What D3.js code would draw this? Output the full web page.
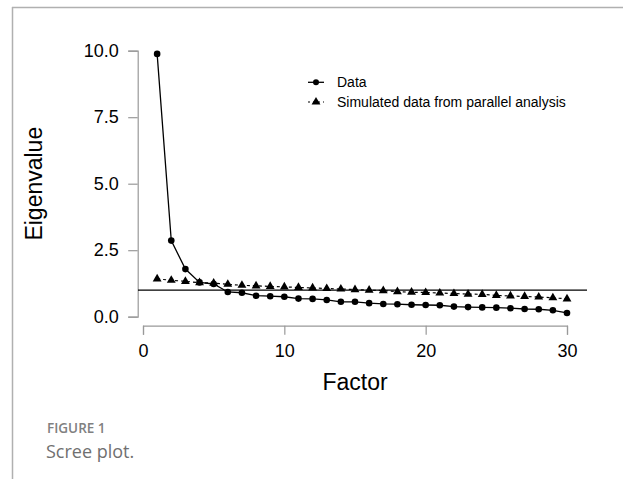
<!DOCTYPE html>
<html>
<head>
<meta charset="utf-8">
<script src="https://cdn.jsdelivr.net/npm/d3@7"></script>
<style>
  html, body { margin: 0; padding: 0; background: #fff; }
  svg { display: block; }
</style>
</head>
<body>
<svg id="chart" width="623" height="479"></svg>
<script>
// Eigenvalues of the observed data and of the parallel-analysis simulation
const factors = d3.range(1, 31);
const observed = [9.88, 2.86, 1.79, 1.29, 1.23, 0.93, 0.90, 0.79, 0.77, 0.75,
                  0.68, 0.67, 0.63, 0.56, 0.56, 0.51, 0.48, 0.47, 0.45, 0.44,
                  0.43, 0.38, 0.36, 0.35, 0.34, 0.32, 0.29, 0.28, 0.24, 0.14];
const simulated = [1.42, 1.37, 1.33, 1.28, 1.26, 1.22, 1.18, 1.16, 1.14, 1.12,
                   1.10, 1.08, 1.06, 1.04, 1.02, 1.00, 0.98, 0.94, 0.92, 0.91,
                   0.89, 0.87, 0.85, 0.84, 0.80, 0.78, 0.76, 0.74, 0.71, 0.67];
const xTicks = [0, 10, 20, 30];
const yTicks = [0, 2.5, 5, 7.5, 10];
const kaiserCut = 1;
const seriesNames = ["Data", "Simulated data from parallel analysis"];

const svg = d3.select("#chart");
const font = "'Liberation Sans', Arial, sans-serif";

// frame lines of the figure panel
svg.append("line").attr("x1", 12.5).attr("x2", 12.5).attr("y1", 7).attr("y2", 479)
  .attr("stroke", "#b0b0b0").attr("stroke-width", 1.5);
svg.append("line").attr("x1", 12).attr("x2", 623).attr("y1", 7.5).attr("y2", 7.5)
  .attr("stroke", "#b0b0b0").attr("stroke-width", 1.5);

const x = d3.scaleLinear().domain([0, 30]).range([143, 567]);
const y = d3.scaleLinear().domain([0, 10]).range([316.7, 50.7]);

// axes, detached from the plotting area
const xAxis = svg.append("g").attr("transform", "translate(0,325.7)")
  .call(d3.axisBottom(x).tickValues(xTicks).tickFormat(d3.format("d")).tickSize(9).tickPadding(10));
const yAxis = svg.append("g").attr("transform", "translate(137.7,0)")
  .call(d3.axisLeft(y).tickValues(yTicks).tickFormat(d3.format(".1f")).tickSize(9.5).tickPadding(9.5));
[xAxis, yAxis].forEach(g => {
  g.select(".domain").attr("stroke", "#999").attr("stroke-width", 1.2);
  g.selectAll(".tick line").attr("stroke", "#999").attr("stroke-width", 1.2);
  g.selectAll(".tick text").attr("fill", "#000").style("font-family", font).style("font-size", "18px");
});

svg.append("text").attr("x", x(15)).attr("y", 390).attr("text-anchor", "middle")
  .style("font-family", font).style("font-size", "23px").text("Factor");
svg.append("text").attr("transform", `translate(42,${y(5)}) rotate(-90)`).attr("text-anchor", "middle")
  .style("font-family", font).style("font-size", "23px").text("Eigenvalue");

// reference line at eigenvalue 1
svg.append("line").attr("x1", 138).attr("x2", 587).attr("y1", y(kaiserCut)).attr("y2", y(kaiserCut))
  .attr("stroke", "#000").attr("stroke-width", 1.3);

const line = d3.line().x((d, i) => x(factors[i])).y(d => y(d));
const tri = d3.symbol().type(d3.symbolTriangle).size(34);

// simulated series: dashed line with triangles
svg.append("path").datum(simulated).attr("d", line).attr("fill", "none")
  .attr("stroke", "#000").attr("stroke-width", 1.2).attr("stroke-dasharray", "3,3");
svg.selectAll(".sim").data(simulated).enter().append("path")
  .attr("transform", (d, i) => `translate(${x(factors[i])},${y(d)})`)
  .attr("d", tri).attr("fill", "#000");

// observed series: solid line with dots
svg.append("path").datum(observed).attr("d", line).attr("fill", "none")
  .attr("stroke", "#000").attr("stroke-width", 1.3);
svg.selectAll(".obs").data(observed).enter().append("circle")
  .attr("cx", (d, i) => x(factors[i])).attr("cy", d => y(d)).attr("r", 3.3).attr("fill", "#000");

// legend
const lg = svg.append("g");
lg.append("line").attr("x1", 308).attr("x2", 324).attr("y1", 82.3).attr("y2", 82.3)
  .attr("stroke", "#000").attr("stroke-width", 1.3);
lg.append("circle").attr("cx", 316).attr("cy", 82.3).attr("r", 3).attr("fill", "#000");
lg.append("line").attr("x1", 308).attr("x2", 324).attr("y1", 102).attr("y2", 102)
  .attr("stroke", "#000").attr("stroke-width", 1.2).attr("stroke-dasharray", "2,3");
lg.append("path").attr("transform", "translate(316,102)").attr("d", tri).attr("fill", "#000");
lg.selectAll("text").data(seriesNames).enter().append("text")
  .attr("x", 337).attr("y", (d, i) => 82.3 + i * 19.7).attr("dy", "0.35em")
  .style("font-family", font).style("font-size", "14px").text(d => d);

// caption
svg.append("text").attr("x", 47).attr("y", 433)
  .style("font-family", "'Open Sans', sans-serif").style("font-size", "13.5px").style("font-weight", "600")
  .attr("fill", "#808080").text("FIGURE 1");
svg.append("text").attr("x", 46).attr("y", 458)
  .style("font-family", "'Open Sans', sans-serif").style("font-size", "18px")
  .attr("fill", "#707070").text("Scree plot.");
</script>
</body>
</html>
